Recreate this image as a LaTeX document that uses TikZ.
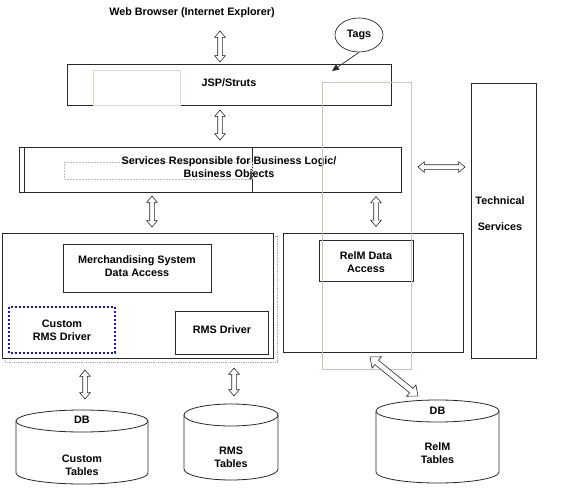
\documentclass[tikz,border=0pt]{standalone}
\usepackage{fontspec}
\setmainfont{Liberation Sans}
\usetikzlibrary{shapes.arrows,shapes.geometric,arrows.meta}
\definecolor{ln}{RGB}{40,40,40}
\definecolor{tallc}{RGB}{205,195,185}
\definecolor{greenc}{RGB}{205,225,205}
\definecolor{dotblue}{RGB}{20,20,220}
\begin{document}
\begin{tikzpicture}[x=1pt,y=-1pt,
  font=\fontsize{10.8}{13}\selectfont\bfseries,
  box/.style={draw=ln, line width=0.9pt, fill=white},
  lbl/.style={align=center, inner sep=0pt},
  darr/.style={draw=ln, fill=white, shape=double arrow, double arrow head extend=3pt,
    double arrow tip angle=80, inner xsep=0pt, inner ysep=2pt, line width=0.6pt},
  bigdarr/.style={darr, inner ysep=2.5pt, double arrow head extend=4.5pt}
]
\useasboundingbox (0,0) rectangle (566,491);

% top
\node[lbl] (web) at (192,13) {Web Browser (Internet Explorer)};
\node[darr, rotate=90, minimum height=31pt] (a1) at (220,46.5) {};

% JSP
\draw[box] (67,64) rectangle (391,105);
\node[lbl] (jsp) at (229,83) {JSP/Struts};
\draw[greenc, line width=0.6pt] (93,70) rectangle (180,105);

% Tags
\node[draw=ln, line width=0.7pt, ellipse, minimum width=48pt, minimum height=34pt, inner sep=0pt] (tags) at (359,35) {Tags};
\coordinate (tagtip) at (332,71);
\draw[ln, line width=0.7pt, -{Triangle[length=7pt,width=6pt]}] (tags.south) -- (tagtip);

\node[darr, rotate=90, minimum height=30pt] (a2) at (220,125) {};

% Services
\draw[ln, line width=0.6pt] (19,147) rectangle (252,192);
\draw[ln, line width=0.9pt] (24,147) rectangle (401,192);
\draw[gray!50, densely dotted, line width=0.5pt] (64,162) rectangle (252,179);
\node[lbl] (svc) at (229,168.5) {Services Responsible for Business Logic/\\Business Objects};

\node[darr, rotate=90, minimum height=31pt] (a3) at (152,211.5) {};
\node[darr, rotate=90, minimum height=30pt] (a4) at (376,211.5) {};
\node[darr, minimum height=47pt] (a5) at (441.5,167) {};

% Technical services
\draw[box] (471,83) rectangle (536,358);
\node[lbl] (tech1) at (500,201) {Technical};
\node[lbl] (tech2) at (500,227) {Services};

% Left big box
\draw[gray!70, densely dotted, line width=0.8pt] (5,236) rectangle (277,362);
\draw[box] (2,233) rectangle (273,358);
\draw[box] (63,244) rectangle (211,292);
\node[lbl] (merch) at (137,266) {Merchandising System\\Data Access};
\draw[dotblue, line width=2pt, dotted] (9,307) rectangle (115,353);
\node[lbl] (cust) at (62,330.5) {Custom\\RMS Driver};
\draw[box] (175,311) rectangle (268,354);
\node[lbl] (rmsd) at (222,330) {RMS Driver};

% RelM box
\draw[box] (283,233) rectangle (463,352);
\draw[box] (319,240) rectangle (413,281);
\node[lbl] (relmda) at (366,262) {RelM Data\\Access};

% tall translucent rect
\draw[tallc, line width=0.7pt] (322,82) rectangle (411,369);

% bottom arrows
\node[darr, rotate=90, minimum height=29pt] (a6) at (85,384.5) {};
\node[darr, rotate=90, minimum height=28pt] (a7) at (234,382) {};
\node[bigdarr, rotate=-39.1, minimum height=62pt] (a8) at (394,376.5) {};

% cylinders
\draw[ln, line width=0.8pt, fill=white] (16,421) -- (16,473) arc[start angle=180, end angle=360, x radius=66pt, y radius=11pt] -- (148,421);
\draw[ln, line width=0.8pt, fill=white] (82,421) ellipse[x radius=66pt, y radius=11pt];
\node[lbl] (db1) at (82,420) {DB};
\node[lbl] (ct) at (82,465) {Custom\\Tables};

\draw[ln, line width=0.8pt, fill=white] (184,415) -- (184,469) arc[start angle=180, end angle=360, x radius=47pt, y radius=11pt] -- (278,415);
\draw[ln, line width=0.8pt, fill=white] (231,415) ellipse[x radius=47pt, y radius=11pt];
\node[lbl] (rt) at (231,457) {RMS\\Tables};

\draw[ln, line width=0.8pt, fill=white] (376,411) -- (376,472) arc[start angle=180, end angle=360, x radius=61.5pt, y radius=11pt] -- (499,411);
\draw[ln, line width=0.8pt, fill=white] (437.5,411) ellipse[x radius=61.5pt, y radius=11pt];
\node[lbl] (db3) at (437.5,411) {DB};
\node[lbl] (relt) at (437.5,453) {RelM\\Tables};
\end{tikzpicture}
\end{document}
